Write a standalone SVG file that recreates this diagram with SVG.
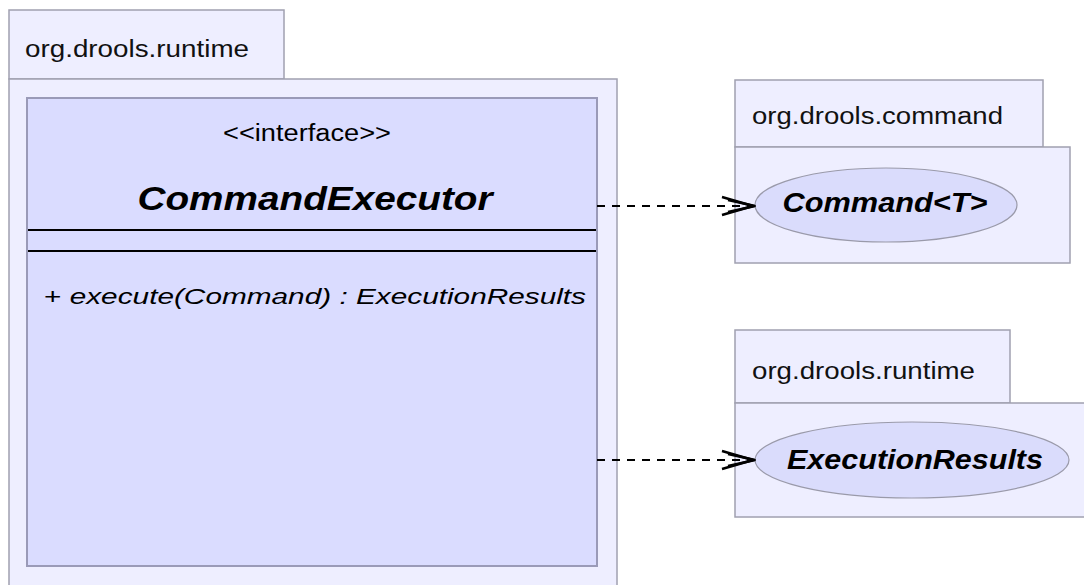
<svg xmlns="http://www.w3.org/2000/svg" width="1084" height="585" viewBox="0 0 1084 585">
<style>
text{font-family:"Liberation Sans",Arial,sans-serif;fill:#000}
.pkg{fill:#eeeeff;stroke:#a0a0b0;stroke-width:1.5}
.cls{fill:#dadcff;stroke:#9a9ab8;stroke-width:2}
.ell{fill:#dadcfc;stroke:#9a9aaa;stroke-width:1.2}
.tab{font-size:23px;fill:#111}
.dep{fill:none;stroke:#000;stroke-width:2;stroke-dasharray:8,7}
.bi{font-weight:bold;font-style:italic}
</style>
<defs>
<marker id="open" viewBox="0 0 36 22" refX="35" refY="11" markerWidth="36" markerHeight="22" markerUnits="userSpaceOnUse" orient="auto">
<path d="M2,2 L33,11 L2,20" fill="none" stroke="#000" stroke-width="2.5"/>
<path d="M8,5 L35,11 L8,17" fill="none" stroke="#000" stroke-width="2.5"/>
</marker>
</defs>
<g id="pkg-runtime">
<rect class="pkg" x="9" y="10" width="275" height="69"/>
<rect class="pkg" x="9" y="79" width="608" height="520"/>
<text class="tab" x="25" y="57" textLength="224" lengthAdjust="spacingAndGlyphs">org.drools.runtime</text>
</g>
<g id="CommandExecutor">
<rect class="cls" x="27" y="98" width="570" height="468"/>
<text x="307" y="141" font-size="23" text-anchor="middle" textLength="168" lengthAdjust="spacingAndGlyphs">&lt;&lt;interface&gt;&gt;</text>
<text x="315" y="210" font-size="34" class="bi" text-anchor="middle" textLength="355" lengthAdjust="spacingAndGlyphs">CommandExecutor</text>
<line x1="28" y1="230" x2="596" y2="230" stroke="#000" stroke-width="2"/>
<line x1="28" y1="251" x2="596" y2="251" stroke="#000" stroke-width="2"/>
<text x="44" y="304" font-size="22" textLength="542" lengthAdjust="spacingAndGlyphs">+ <tspan font-style="italic">execute(Command) : ExecutionResults</tspan></text>
</g>
<g id="pkg-command">
<rect class="pkg" x="735" y="80" width="308" height="67"/>
<rect class="pkg" x="735" y="147" width="335" height="116"/>
<text class="tab" x="752" y="124" textLength="251" lengthAdjust="spacingAndGlyphs">org.drools.command</text>
</g>
<g id="Command">
<ellipse class="ell" cx="886" cy="205" rx="131" ry="37"/>
<text x="885" y="212" font-size="27" class="bi" text-anchor="middle" textLength="205" lengthAdjust="spacingAndGlyphs">Command&lt;T&gt;</text>
</g>
<g id="pkg-runtime2">
<rect class="pkg" x="735" y="330" width="275" height="73"/>
<rect class="pkg" x="735" y="403" width="360" height="114"/>
<text class="tab" x="752" y="379" textLength="223" lengthAdjust="spacingAndGlyphs">org.drools.runtime</text>
</g>
<g id="ExecutionResults">
<ellipse class="ell" cx="912" cy="460" rx="157" ry="38"/>
<text x="915" y="469" font-size="27" class="bi" text-anchor="middle" textLength="256" lengthAdjust="spacingAndGlyphs">ExecutionResults</text>
</g>
<g id="connectors">
<line class="dep" x1="597" y1="206" x2="755" y2="206" marker-end="url(#open)"/>
<line class="dep" x1="597" y1="460" x2="755" y2="460" marker-end="url(#open)"/>
</g>
</svg>
